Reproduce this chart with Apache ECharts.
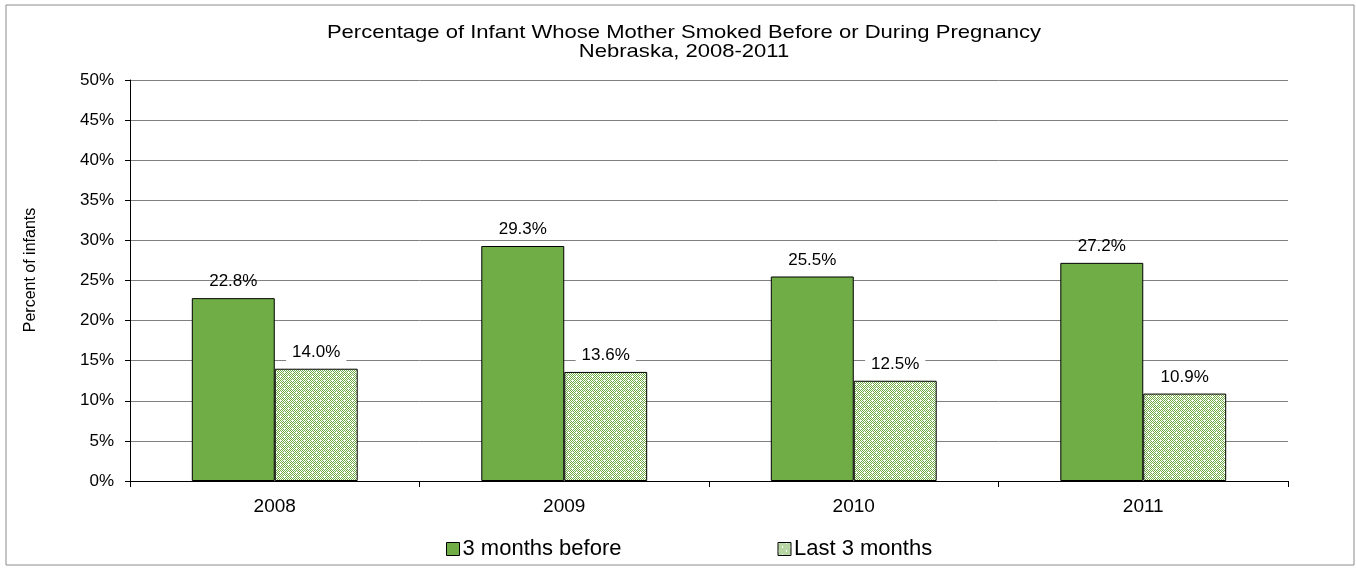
<!DOCTYPE html>
<html>
<head>
<meta charset="utf-8">
<script src="https://cdn.jsdelivr.net/npm/echarts@6/dist/echarts.min.js"></script>
<style>
  html, body { margin: 0; padding: 0; background: #fff; }
  #main { width: 1356px; height: 569px; }
</style>
</head>
<body>
<div id="main"></div>
<script>
var years = ['2008', '2009', '2010', '2011'];
var before3 = [22.8, 29.3, 25.5, 27.2];
var last3 = [14.0, 13.6, 12.5, 10.9];
var seriesNames = ['3 months before', 'Last 3 months'];
var titleLines = ['Percentage of Infant Whose Mother Smoked Before or During Pregnancy', 'Nebraska, 2008-2011'];
var yName = 'Percent of infants';

var green = '#70AD47';
var font = 'Liberation Sans, Arial';

// checker pattern for the second series
function makePattern() {
    var c = document.createElement('canvas');
    c.width = 8;
    c.height = 8;
    var ctx = c.getContext('2d');
    ctx.fillStyle = '#fff';
    ctx.fillRect(0, 0, 8, 8);
    ctx.fillStyle = green;
    for (var y = 0; y < 8; y++) {
        for (var x = 0; x < 8; x++) {
            if ((x + y) % 2 === 0 && !(x === 4 && y === 4) && !(x === 0 && y === 0)) {
                ctx.fillRect(x, y, 1, 1);
            }
        }
    }
    return c;
}
var pattern = {image: makePattern(), repeat: 'repeat'};

function pct(p) { return p.value.toFixed(1) + '%'; }

var chart = echarts.init(document.getElementById('main'));
chart.setOption({
    animation: false,
    textStyle: {fontFamily: font},
    graphic: [{
        type: 'rect',
        shape: {x: 6, y: 5, width: 1348, height: 560},
        style: {fill: 'none', stroke: '#8c8c8c', lineWidth: 1},
        silent: true,
        z: -1
    }, {
        type: 'text',
        x: 684, y: 33, scaleX: 1.16,
        style: {text: titleLines[0], font: '19px ' + font, fill: '#000', textAlign: 'center', textVerticalAlign: 'middle'}
    }, {
        type: 'text',
        x: 684, y: 52, scaleX: 1.16,
        style: {text: titleLines[1], font: '19px ' + font, fill: '#000', textAlign: 'center', textVerticalAlign: 'middle'}
    }, {
        type: 'text',
        x: 31, y: 270, rotation: Math.PI / 2,
        style: {text: yName, font: '16px ' + font, fill: '#000', textAlign: 'center', textVerticalAlign: 'middle'}
    }],
    legend: {
        data: [
            {name: seriesNames[0], itemStyle: {color: green, borderColor: '#000', borderWidth: 1}},
            {name: seriesNames[1], itemStyle: {color: pattern, borderColor: '#000', borderWidth: 1}}
        ],
        left: 441,
        top: 533,
        itemWidth: 13,
        itemHeight: 13,
        itemGap: 156,
        icon: 'rect',
        textStyle: {fontSize: 22, color: '#000', padding: [0, 0, 0, -2]}
    },
    grid: {left: 130, right: 68, top: 80, bottom: 88},
    xAxis: {
        type: 'category',
        data: years,
        axisLine: {lineStyle: {color: '#000'}},
        axisTick: {show: true, length: 6, lineStyle: {color: '#000'}},
        axisLabel: {fontSize: 19, color: '#000', margin: 16}
    },
    yAxis: {
        type: 'value',
        min: 0,
        max: 50,
        interval: 5,
        axisLine: {show: true, lineStyle: {color: '#000'}},
        axisTick: {show: true, length: 5, lineStyle: {color: '#000'}},
        axisLabel: {fontSize: 17, color: '#000', margin: 16, formatter: '{value}%'},
        splitLine: {lineStyle: {color: '#808080', width: 1}}
    },
    series: [{
        name: seriesNames[0],
        type: 'bar',
        data: before3,
        barGap: '0%',
        barCategoryGap: '42.7%',
        itemStyle: {color: green, borderColor: '#000', borderWidth: 1},
        label: {
            show: true, position: 'top', distance: 8, formatter: pct,
            color: '#000', fontSize: 17
        }
    }, {
        name: seriesNames[1],
        type: 'bar',
        data: last3,
        itemStyle: {color: pattern, borderColor: '#000', borderWidth: 1},
        label: {
            show: true, position: 'top', distance: 6, formatter: pct,
            color: '#000', fontSize: 17, backgroundColor: '#fff', padding: [2, 6]
        }
    }]
});
</script>
</body>
</html>
